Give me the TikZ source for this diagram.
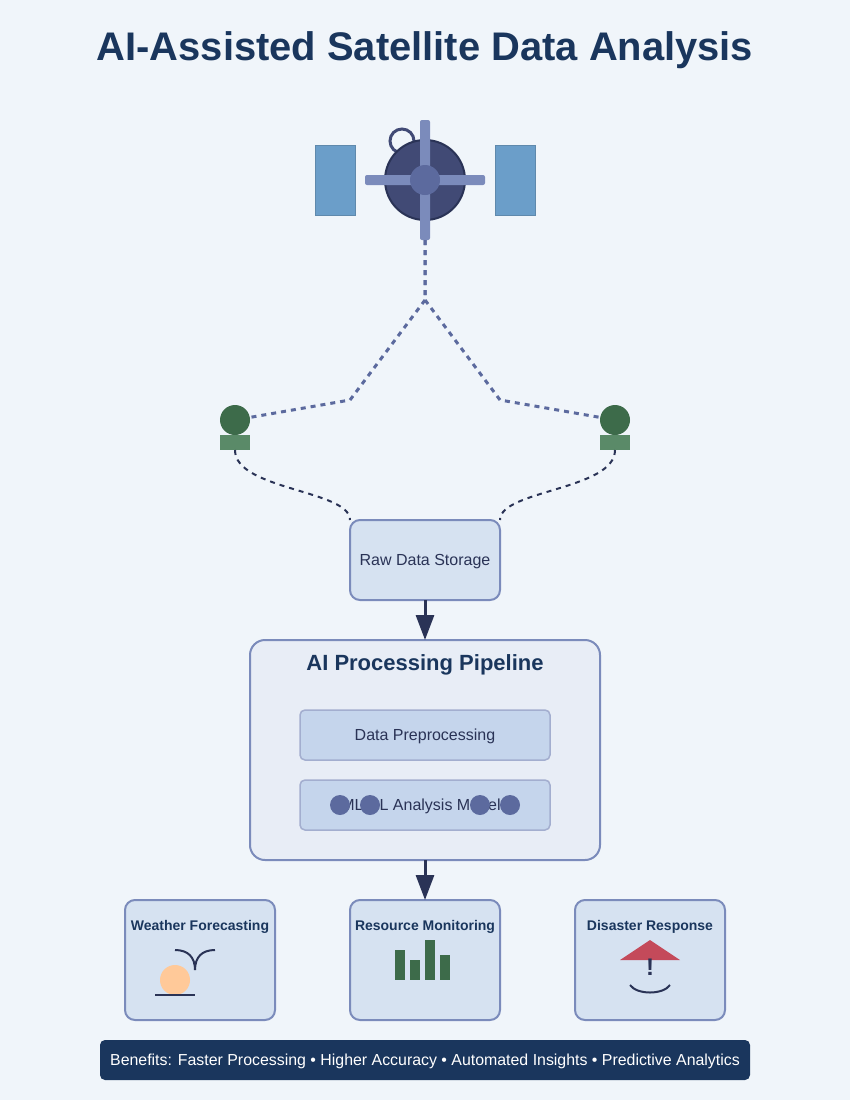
\documentclass[tikz,border=0pt]{standalone}
\usepackage{fontspec}
\setmainfont{Liberation Sans}
\usetikzlibrary{arrows.meta}
\definecolor{bgc}{HTML}{F0F5FA}
\definecolor{navy}{HTML}{1A365D}
\definecolor{ink}{HTML}{2A3356}
\definecolor{edge}{HTML}{7B8BBB}
\definecolor{hub}{HTML}{5C6A9E}
\definecolor{body}{HTML}{414A75}
\definecolor{panel}{HTML}{6B9EC9}
\definecolor{wingedge}{HTML}{5F89AC}
\definecolor{boxc}{HTML}{D6E2F1}
\definecolor{pipec}{HTML}{E8EDF6}
\definecolor{stepc}{HTML}{C5D5EC}
\definecolor{green1}{HTML}{3D6B4A}
\definecolor{green2}{HTML}{5A8A68}
\definecolor{sunc}{HTML}{FFC999}
\definecolor{warn}{HTML}{C44A5A}
\newcommand\px[1]{\fontsize{#1}{#1}\selectfont}
\tikzset{
  box/.style={draw=edge,line width=2pt,fill=boxc,rounded corners=10pt,outer sep=0pt,inner sep=0pt},
  stepbox/.style={draw=edge!70,line width=1.5pt,fill=stepc,rounded corners=5pt,outer sep=0pt,inner sep=0pt,minimum width=250pt,minimum height=50pt},
  bar/.style={fill=edge,rounded corners=2pt,inner sep=0pt,outer sep=0pt},
  wing/.style={draw=wingedge,line width=1pt,fill=panel,minimum width=40pt,minimum height=70pt,inner sep=0pt},
  link/.style={draw=hub,line width=3pt,dash pattern=on 5pt off 5pt},
  wire/.style={draw=ink,line width=2pt,dash pattern=on 5pt off 5pt},
  flow/.style={draw=ink,line width=3pt,-{Triangle[length=25pt,width=18pt]}},
  lbl/.style={anchor=base,text=ink,inner sep=0pt},
  head/.style={anchor=base,text=navy,inner sep=0pt,font=\bfseries\px{14}},
  ink2/.style={draw=ink,line width=2pt},
}
\begin{document}
\begin{tikzpicture}[x=1pt,y=-1pt]
\fill[bgc] (0,0) rectangle (850,1100);
\node[anchor=base,text=navy,inner sep=0pt,font=\bfseries\px{39.9}] (title) at (425,60) {AI-Assisted Satellite Data Analysis};
% satellite
\node[wing] (panelL) at (335,180) {};
\node[wing] (panelR) at (515,180) {};
\node[draw=body,line width=3pt,circle,minimum size=24pt,inner sep=0pt] (antenna) at (402,141) {};
\node[draw=ink,line width=2pt,fill=body,circle,minimum size=80pt,inner sep=0pt] (sat) at (425,180) {};
\node[bar,minimum width=120pt,minimum height=10pt] (barH) at (425,180) {};
\node[bar,minimum width=10pt,minimum height=120pt] (barV) at (425,180) {};
\node[fill=hub,circle,minimum size=30pt,inner sep=0pt] (hub) at (425,180) {};
% ground stations
\node[fill=green1,circle,minimum size=30pt,inner sep=0pt] (gsL) at (235,420) {};
\node[fill=green2,minimum width=30pt,minimum height=15pt,inner sep=0pt,outer sep=0pt] (baseL) at (235,442.5) {};
\node[fill=green1,circle,minimum size=30pt,inner sep=0pt] (gsR) at (615,420) {};
\node[fill=green2,minimum width=30pt,minimum height=15pt,inner sep=0pt,outer sep=0pt] (baseR) at (615,442.5) {};
\coordinate (split) at (425,300);
\coordinate (bendL) at (350,400);
\coordinate (bendR) at (500,400);
\path[link] (barV.south) -- (split) -- (bendL) -- (gsL);
\path[link] (barV.south) -- (split) -- (bendR) -- (gsR);
% boxes
\node[box,minimum width=150pt,minimum height=80pt] (raw) at (425,560) {};
\node[lbl,font=\px{16}] (rawtxt) at (425,565) {Raw Data Storage};
\path[wire] (baseL.south) .. controls (235,490) and (350,490) .. (raw.north west);
\path[wire] (baseR.south) .. controls (615,490) and (500,490) .. (raw.north east);
\node[box,fill=pipec,rounded corners=15pt,minimum width=350pt,minimum height=220pt] (pipe) at (425,750) {};
\node[anchor=base,text=navy,inner sep=0pt,font=\bfseries\px{22}] (pipetxt) at (425,670) {AI Processing Pipeline};
\node[stepbox] (prep) at (425,735) {};
\node[lbl,font=\px{16}] (preptxt) at (425,740) {Data Preprocessing};
\node[stepbox] (model) at (425,805) {};
\node[lbl,font=\px{16}] (modeltxt) at (421,810) {ML/DL Analysis Model};
\foreach \x/\n in {340/a,370/b,480/c,510/d}
  \node[fill=hub,circle,minimum size=20pt,inner sep=0pt] (dot\n) at (\x,805) {};
\path[flow] (raw.south) -- (pipe.north);
% outcomes
\node[box,minimum width=150pt,minimum height=120pt] (wx) at (200,960) {};
\node[box,minimum width=150pt,minimum height=120pt] (res) at (425,960) {};
\node[box,minimum width=150pt,minimum height=120pt] (dis) at (650,960) {};
\path[flow] (pipe.south) -- (res.north);
\node[head] (wxtxt) at (200,930) {Weather Forecasting};
\node[head] (restxt) at (425,930) {Resource Monitoring};
\node[head] (distxt) at (650,930) {Disaster Response};
% weather icon
\fill[sunc] (175,980) circle (15);
\draw[ink2] (155,995) -- (195,995);
\draw[ink2] (175,950) .. controls (188,950) and (195,957) .. (195,970);
\draw[ink2] (215,950) .. controls (202,950) and (195,957) .. (195,970);
% bars
\foreach \x/\y in {395/950,410/960,425/940,440/955}
  \fill[green1] (\x,\y) rectangle (\x+10,980);
% warning icon
\fill[warn] (650,940) -- (620,960) -- (680,960) -- cycle;
\node[lbl,font=\bfseries\px{24}] (warntxt) at (650,975) {!};
\draw[ink2] (630,985) .. controls (637,995) and (663,995) .. (670,985);
% benefits
\node[fill=navy,rounded corners=5pt,minimum width=650pt,minimum height=40pt,inner sep=0pt] (ben) at (425,1060) {};
\node[anchor=base,text=white,inner sep=0pt,font=\px{15.9}] (bentxt) at (425,1065) {Benefits: Faster Processing • Higher Accuracy • Automated Insights • Predictive Analytics};
\end{tikzpicture}
\end{document}
